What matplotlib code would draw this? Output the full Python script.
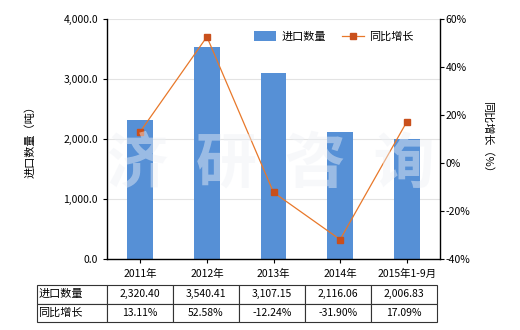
import matplotlib
matplotlib.use("Agg")
import matplotlib.pyplot as plt
from matplotlib.ticker import FuncFormatter, FixedLocator

plt.rcParams['font.family'] = ['Noto Sans CJK SC', 'DejaVu Sans']

categories = ["2011年", "2012年", "2013年", "2014年", "2015年1-9月"]
import_qty = [2320.40, 3540.41, 3107.15, 2116.06, 2006.83]
growth = [13.11, 52.58, -12.24, -31.90, 17.09]
qty_labels = ["2,320.40", "3,540.41", "3,107.15", "2,116.06", "2,006.83"]
growth_labels = ["13.11%", "52.58%", "-12.24%", "-31.90%", "17.09%"]
series_names = ["进口数量", "同比增长"]

bar_color = "#5690D6"
line_color = "#E8782A"
marker_color = "#C9501C"

fig = plt.figure(figsize=(5.2, 3.3), dpi=100)
ax = fig.add_axes([107/520, 1 - 259/330, 333/520, 240/330])
x = list(range(len(categories)))
bars = ax.bar(x, import_qty, width=0.39, color=bar_color, zorder=2, label=series_names[0])
ax.set_xlim(-0.5, len(categories) - 0.5)
ax.set_ylim(0, 4000)
ax.yaxis.set_major_locator(FixedLocator([0, 1000, 2000, 3000, 4000]))
ax.yaxis.set_major_formatter(FuncFormatter(lambda v, p: f"{v:,.1f}"))
ax.grid(axis='y', color='#e3e3e3', linewidth=0.8, zorder=0)
ax.set_xticks(x)
ax.set_xticklabels(categories)
ax.tick_params(axis='both', labelsize=7.5, length=3, width=0.8, direction='out')
ax.tick_params(axis='x', pad=4)
for s in ['top', 'right']:
    ax.spines[s].set_visible(False)
for s in ['left', 'bottom']:
    ax.spines[s].set_linewidth(1.0)
ax.set_ylabel("进口数量（吨）", fontsize=8, labelpad=20)

ax2 = ax.twinx()
ln, = ax2.plot(x, growth, color=line_color, linewidth=0.9, marker='s', markersize=4,
               markerfacecolor=marker_color, markeredgecolor=marker_color, zorder=3,
               label=series_names[1])
ax2.set_ylim(-40, 60)
ax2.yaxis.set_major_locator(FixedLocator([-40, -20, 0, 20, 40, 60]))
ax2.yaxis.set_major_formatter(FuncFormatter(lambda v, p: f"{v:.0f}%"))
ax2.tick_params(axis='y', labelsize=7.5, length=3, width=0.8, direction='out', pad=1)
for s in ['top', 'left', 'bottom']:
    ax2.spines[s].set_visible(False)
ax2.spines['right'].set_linewidth(1.0)
ax2.set_ylabel("同比增长（%）", fontsize=8, rotation=-90, labelpad=16)

leg = ax2.legend([bars, ln], series_names, loc='upper left', bbox_to_anchor=(0.441, 0.948),
                 ncol=2, frameon=False, fontsize=8, handlelength=2.0, handletextpad=0.45,
                 columnspacing=1.45, borderpad=0, borderaxespad=0, handleheight=0.9)

# watermark
fig.text(0.52, 0.50, "济  研  咨  询", fontsize=44, color='#eef1f6', alpha=0.45,
         ha='center', va='center', fontweight='bold', zorder=5)

# table
cell_text = [[series_names[0]] + qty_labels, [series_names[1]] + growth_labels]
tbl = ax.table(cellText=cell_text, cellLoc='center',
               bbox=[(37-107)/333, -0.2625, 400/333, 0.154],
               colWidths=[70/400] + [66/400]*5)
tbl.auto_set_font_size(False)
tbl.set_fontsize(7.5)
for (r, c), cell in tbl.get_celld().items():
    cell.set_linewidth(0.8)
    cell.set_edgecolor('#333333')
    if c == 0:
        cell.set_text_props(ha='left', fontsize=8)
        cell.PAD = 0.02

fig.savefig("out.png", dpi=100)
